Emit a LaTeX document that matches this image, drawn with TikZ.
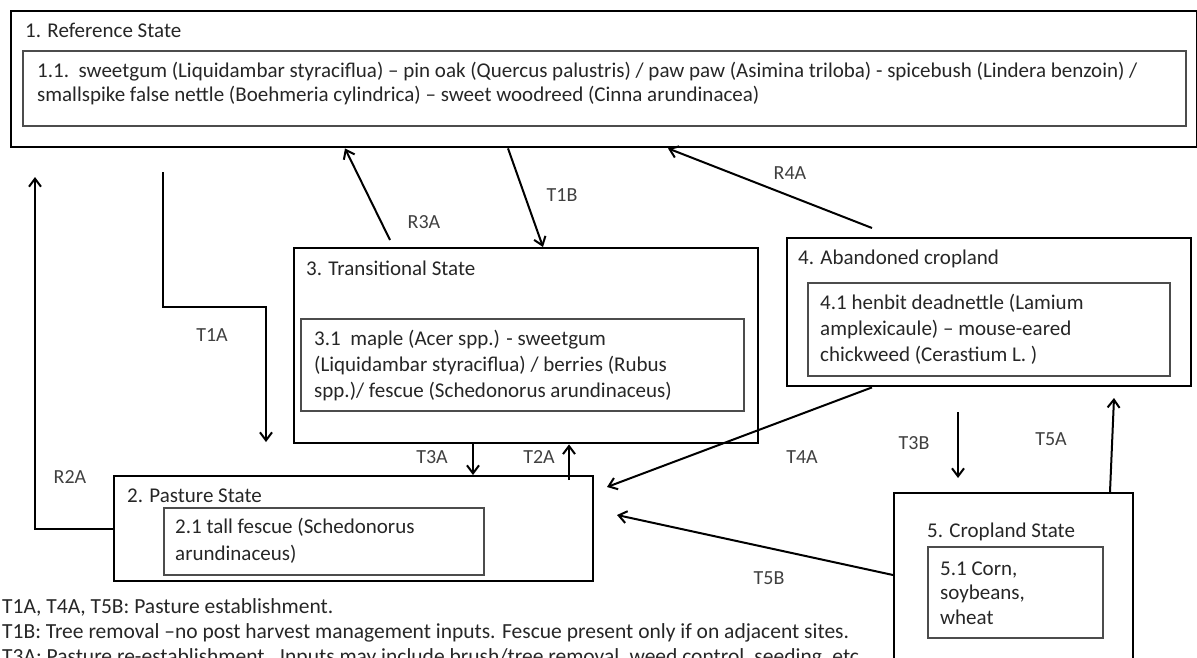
\documentclass[tikz,border=0pt]{standalone}
\usepackage{fontspec}
\setmainfont{Carlito}
\usetikzlibrary{arrows.meta}
\begin{document}
\begin{tikzpicture}[x=1pt,y=-1pt,
  outerbox/.style={draw=black, line width=2.4pt, inner sep=0pt, anchor=north west},
  innerbox/.style={draw=black!70, line width=2pt, inner sep=0pt, anchor=north west},
  txt/.style={text=black!85, font=\fontsize{21}{25}\selectfont, inner sep=0pt, align=left, anchor=west},
  lbl/.style={text=black!75, font=\fontsize{20}{24}\selectfont, inner sep=0pt},
  conn/.style={draw=black, line width=2pt, -{Straight Barb[length=8pt,width=12pt]}}]
\useasboundingbox (0,0) rectangle (1197,657);
\clip (0,0) rectangle (1197,657);

% boxes
\node[outerbox, minimum width=1186pt, minimum height=136pt] (b1) at (10,10) {};
\node[innerbox, minimum width=1163pt, minimum height=75pt] (b1i) at (22,50) {};
\node[outerbox, minimum width=464pt, minimum height=195pt] (b3) at (293,247) {};
\node[innerbox, minimum width=443pt, minimum height=92pt] (b3i) at (300,318) {};
\node[outerbox, minimum width=404pt, minimum height=148pt] (b4) at (786,237) {};
\node[innerbox, minimum width=362pt, minimum height=93pt] (b4i) at (807,282) {};
\node[outerbox, minimum width=479pt, minimum height=105pt] (b2) at (113,475) {};
\node[innerbox, minimum width=320pt, minimum height=67pt] (b2i) at (163,507) {};
\node[outerbox, minimum width=239pt, minimum height=200pt] (b5) at (893,492) {};
\node[innerbox, minimum width=175pt, minimum height=91pt] (b5i) at (927,546) {};

% titles
\node[txt] (t1) at (25,30) {1. Reference State};
\node[txt] (t3) at (306,268) {3. Transitional State};
\node[txt] (t4) at (798,259) {4. Abandoned cropland};
\node[txt] (t2) at (127,496) {2. Pasture State};
\node[txt] (t5) at (927,532) {5. Cropland State};

% inner texts
\node[txt, font=\fontsize{21}{24}\selectfont] (x1) at (37,84) {1.1.\ \ sweetgum (Liquidambar styraciflua) – pin oak (Quercus palustris) / paw paw (Asimina triloba) - spicebush (Lindera benzoin) /\\smallspike false nettle (Boehmeria cylindrica) – sweet woodreed (Cinna arundinacea)};
\node[txt, font=\fontsize{21}{26}\selectfont] (x3) at (314,366) {3.1\ \ maple (Acer spp.) - sweetgum\\(Liquidambar styraciflua) / berries (Rubus\\spp.)/ fescue (Schedonorus arundinaceus)};
\node[txt, font=\fontsize{21}{26}\selectfont] (x4) at (820,329) {4.1 henbit deadnettle (Lamium\\amplexicaule) – mouse-eared\\chickweed (Cerastium L. )};
\node[txt, font=\fontsize{21}{27}\selectfont] (x2) at (175,541) {2.1 tall fescue (Schedonorus\\arundinaceus)};
\node[txt, font=\fontsize{21}{24.5}\selectfont] (x5) at (940,593) {5.1 Corn,\\soybeans,\\wheat};

% legend
\node[txt, font=\fontsize{21.5}{25}\selectfont] (legend) at (2,633) {T1A, T4A, T5B: Pasture establishment.\\T1B: Tree removal –no post harvest management inputs. Fescue present only if on adjacent sites.\\T3A: Pasture re-establishment.\ \ Inputs may include brush/tree removal, weed control, seeding, etc.};

% free connector ends
\coordinate (r2aend) at (35,177);
\coordinate (t1astart) at (163,172);
\coordinate (t1abend) at (163,307);
\coordinate (t1aend) at (266,442);
\coordinate (r3astart) at (390,240);
\coordinate (r4astart) at (872,228);
\coordinate (t4aend) at (607,487);
\coordinate (t3bstart) at (958,412);
\coordinate (t3bend) at (958,478);
\coordinate (t5aend) at (1114,398);
\coordinate (t5bend) at (617,515);

% connectors
\draw[conn] (b2.west) -| (r2aend);
\draw[conn] (t1astart) -- (t1abend) -| (t1aend);
\draw[conn] (r3astart) -- ([xshift=335pt]b1.south west);
\draw[conn] ([xshift=498pt]b1.south west) -- ([xshift=250pt]b3.north west);
\draw[conn] (r4astart) -- ([xshift=658pt]b1.south west);
\draw[conn] ([xshift=180pt]b3.south west) -- ([xshift=360pt]b2.north west);
\draw[conn] ([xshift=456pt,yshift=-5pt]b2.north west) -- ([xshift=276pt]b3.south west);
\draw[conn] ([xshift=86pt]b4.south west) -- (t4aend);
\draw[conn] (t3bstart) -- (t3bend);
\draw[conn] ([xshift=217pt]b5.north west) -- (t5aend);
\draw[conn] ([yshift=-83pt]b5.north west) -- (t5bend);

% labels
\node[lbl] (lr2a) at (70,477) {R2A};
\node[lbl] (lt1a) at (212,335) {T1A};
\node[lbl] (lr3a) at (424,222) {R3A};
\node[lbl] (lt1b) at (562,195) {T1B};
\node[lbl] (lr4a) at (790,173) {R4A};
\node[lbl] (lt3a) at (432,457) {T3A};
\node[lbl] (lt2a) at (539,457) {T2A};
\node[lbl] (lt4a) at (802,457) {T4A};
\node[lbl] (lt3b) at (914,443) {T3B};
\node[lbl] (lt5a) at (1051,439) {T5A};
\node[lbl] (lt5b) at (769,578) {T5B};
\end{tikzpicture}
\end{document}
